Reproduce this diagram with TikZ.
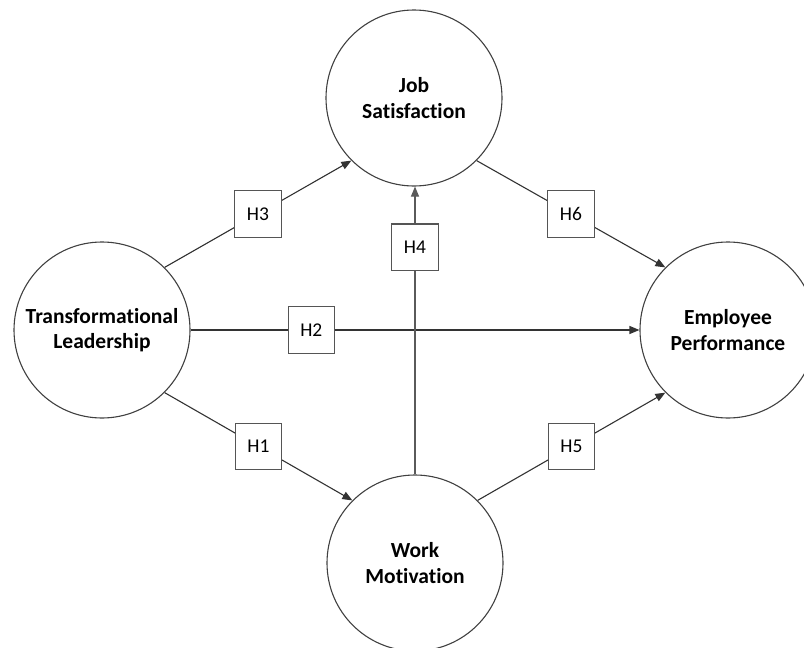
\documentclass[tikz,border=0pt]{standalone}
\usepackage{fontspec}
\setmainfont{Carlito}[Ligatures=NoCommon]
\usetikzlibrary{arrows.meta}
\definecolor{linec}{HTML}{333333}
\definecolor{circc}{HTML}{404040}
\definecolor{boxc}{HTML}{555555}
\definecolor{vlinec}{HTML}{5A5A5A}
\begin{document}
\begin{tikzpicture}[x=1pt,y=-1pt,
  construct/.style={circle, draw=circc, line width=1.1pt, minimum size=176pt,
    inner sep=0pt, align=center, font=\fontsize{21.5}{25.7}\selectfont\bfseries},
  hbox/.style={rectangle, draw=boxc, line width=1.1pt, fill=white,
    minimum width=46.5pt, minimum height=46.5pt, inner sep=0pt,
    font=\fontsize{19.5}{22}\selectfont},
  path/.style={draw=linec, line width=1.1pt,
    -{Triangle[length=10pt,width=8pt]}}
]
\useasboundingbox (0,0) rectangle (804,648);

% latent constructs
\node[construct] (TL) at (102,330) {Transformational\\Leadership};
\node[construct] (JS) at (414,98) {Job\\Satisfaction};
\node[construct] (EP) at (728,330) {Employee\\Performance};
\node[construct] (WM) at (415,563) {Work\\Motivation};

% direct effect on performance
\draw[path] (TL.east) -- node[hbox, pos=0.269] (h2) {H2} (EP.west);

% work motivation -> job satisfaction
\draw[path, draw=vlinec] (WM.north) -- node[hbox, pos=0.789] (h4) {H4} (WM.north |- JS.south);

% remaining hypothesised paths
\draw[path] (TL.45) -- node[hbox] (h3) {H3} (JS.225);
\draw[path] (JS.-45) -- node[hbox] (h6) {H6} (EP.135);
\draw[path] (TL.-45) -- node[hbox] (h1) {H1} (WM.135);
\draw[path] (WM.45) -- node[hbox] (h5) {H5} (EP.225);
\end{tikzpicture}
\end{document}
